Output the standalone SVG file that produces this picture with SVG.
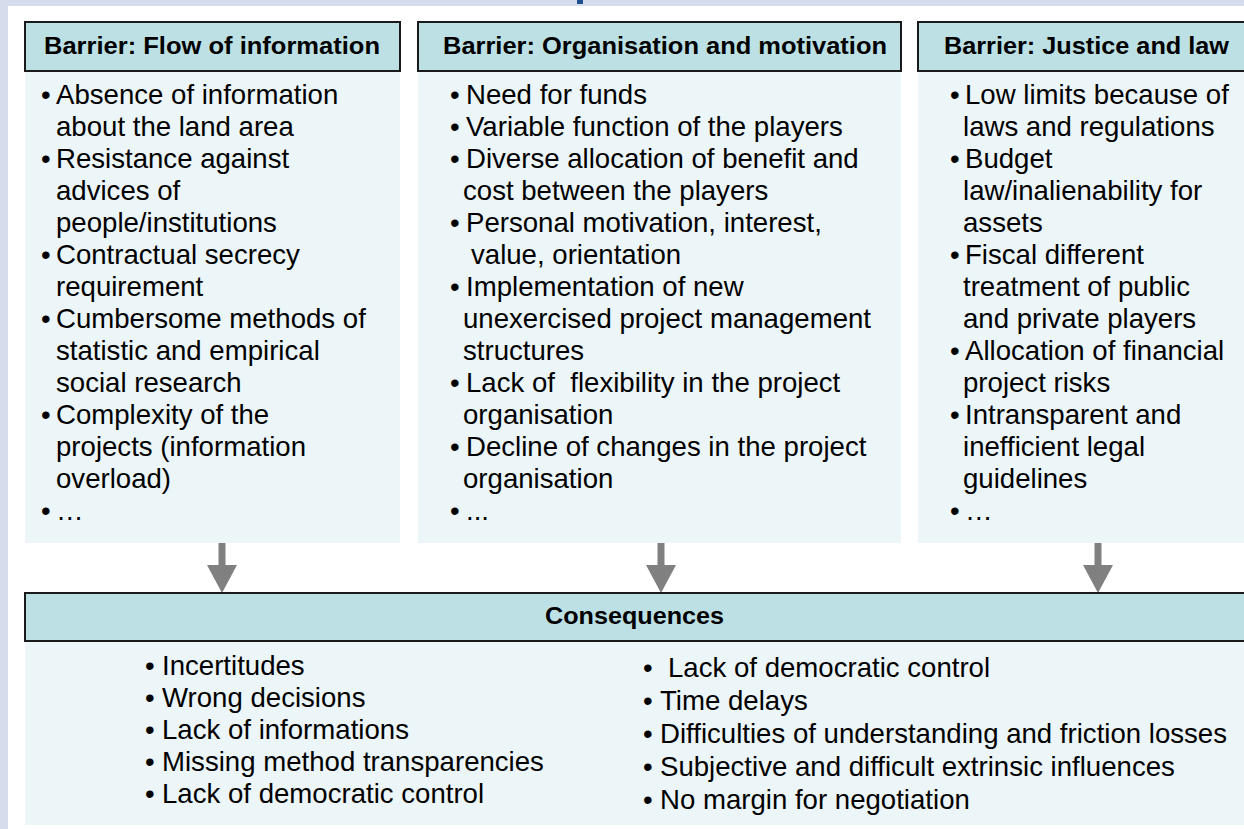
<svg xmlns="http://www.w3.org/2000/svg" width="1244" height="829" viewBox="0 0 1244 829">
<defs>
<style>
.hdr{fill:#bce0e4;stroke:#1a1a1a;stroke-width:2}
.body{fill:#ecf5f7}
.ht{font-family:"Liberation Sans",Arial,sans-serif;font-weight:bold;font-size:23px;fill:#000}
.bt{font-family:"Liberation Sans",Arial,sans-serif;font-size:27.6px;fill:#000}
.arr{fill:#808080}
</style>
</defs>
<rect x="0" y="0" width="1244" height="829" fill="#d7dcec"/>
<rect x="8" y="6" width="1236" height="823" fill="#ffffff"/>
<rect x="577" y="0" width="6" height="4" fill="#1f4e8c"/>

<g id="barrier-flow">
<rect class="body" x="25" y="71" width="375" height="472"/>
<rect class="hdr" x="25" y="22" width="375" height="49"/>
<text class="ht" x="44" y="54" textLength="336" lengthAdjust="spacingAndGlyphs">Barrier: Flow of information</text>
<text class="bt">
<tspan x="41" y="104">•</tspan><tspan x="56" y="104">Absence of information</tspan>
<tspan x="56" y="136">about the land area</tspan>
<tspan x="41" y="168">•</tspan><tspan x="56" y="168">Resistance against</tspan>
<tspan x="56" y="200">advices of</tspan>
<tspan x="56" y="232">people/institutions</tspan>
<tspan x="41" y="264">•</tspan><tspan x="56" y="264">Contractual secrecy</tspan>
<tspan x="56" y="296">requirement</tspan>
<tspan x="41" y="328">•</tspan><tspan x="56" y="328">Cumbersome methods of</tspan>
<tspan x="56" y="360">statistic and empirical</tspan>
<tspan x="56" y="392">social research</tspan>
<tspan x="41" y="424">•</tspan><tspan x="56" y="424">Complexity of the</tspan>
<tspan x="56" y="456">projects (information</tspan>
<tspan x="56" y="488">overload)</tspan>
<tspan x="41" y="520">•</tspan><tspan x="56" y="520">…</tspan>
</text>
</g>

<g id="barrier-organisation">
<rect class="body" x="418" y="71" width="483" height="472"/>
<rect class="hdr" x="418" y="22" width="483" height="49"/>
<text class="ht" x="443" y="54" textLength="444" lengthAdjust="spacingAndGlyphs">Barrier: Organisation and motivation</text>
<text class="bt">
<tspan x="450" y="104">•</tspan><tspan x="466" y="104">Need for funds</tspan>
<tspan x="450" y="136">•</tspan><tspan x="466" y="136">Variable function of the players</tspan>
<tspan x="450" y="168">•</tspan><tspan x="466" y="168">Diverse allocation of benefit and</tspan>
<tspan x="463" y="200">cost between the players</tspan>
<tspan x="450" y="232">•</tspan><tspan x="466" y="232">Personal motivation, interest,</tspan>
<tspan x="471" y="264">value, orientation</tspan>
<tspan x="450" y="296">•</tspan><tspan x="466" y="296">Implementation of new</tspan>
<tspan x="463" y="328">unexercised project management</tspan>
<tspan x="463" y="360">structures</tspan>
<tspan x="450" y="392">•</tspan><tspan x="466" y="392" xml:space="preserve">Lack of  flexibility in the project</tspan>
<tspan x="463" y="424">organisation</tspan>
<tspan x="450" y="456">•</tspan><tspan x="466" y="456">Decline of changes in the project</tspan>
<tspan x="463" y="488">organisation</tspan>
<tspan x="450" y="520">•</tspan><tspan x="466" y="520">...</tspan>
</text>
</g>

<g id="barrier-justice">
<rect class="body" x="918" y="71" width="330" height="472"/>
<rect class="hdr" x="918" y="22" width="330" height="49"/>
<text class="ht" x="944" y="54" textLength="285" lengthAdjust="spacingAndGlyphs">Barrier: Justice and law</text>
<text class="bt">
<tspan x="950" y="104">•</tspan><tspan x="965" y="104">Low limits because of</tspan>
<tspan x="963" y="136">laws and regulations</tspan>
<tspan x="950" y="168">•</tspan><tspan x="965" y="168">Budget</tspan>
<tspan x="963" y="200">law/inalienability for</tspan>
<tspan x="963" y="232">assets</tspan>
<tspan x="950" y="264">•</tspan><tspan x="965" y="264">Fiscal different</tspan>
<tspan x="963" y="296">treatment of public</tspan>
<tspan x="963" y="328">and private players</tspan>
<tspan x="950" y="360">•</tspan><tspan x="965" y="360">Allocation of financial</tspan>
<tspan x="963" y="392">project risks</tspan>
<tspan x="950" y="424">•</tspan><tspan x="965" y="424">Intransparent and</tspan>
<tspan x="963" y="456">inefficient legal</tspan>
<tspan x="963" y="488">guidelines</tspan>
<tspan x="950" y="520">•</tspan><tspan x="965" y="520">…</tspan>
</text>
</g>

<g id="connectors">
<path class="arr" d="M218.5 543 H225.5 V565 H237 L222 593 L207 565 H218.5 Z"/>
<path class="arr" d="M657.5 543 H664.5 V565 H676 L661 593 L646 565 H657.5 Z"/>
<path class="arr" d="M1094.5 543 H1101.5 V565 H1113 L1098 593 L1083 565 H1094.5 Z"/>
</g>

<g id="consequences">
<rect class="body" x="25" y="641" width="1223" height="184"/>
<rect class="hdr" x="25" y="593" width="1223" height="48"/>
<text class="ht" x="545" y="624" textLength="179" lengthAdjust="spacingAndGlyphs">Consequences</text>
<text class="bt">
<tspan x="145" y="675">•</tspan><tspan x="162" y="675">Incertitudes</tspan>
<tspan x="145" y="707">•</tspan><tspan x="162" y="707">Wrong decisions</tspan>
<tspan x="145" y="739">•</tspan><tspan x="162" y="739">Lack of informations</tspan>
<tspan x="145" y="771">•</tspan><tspan x="162" y="771">Missing method transparencies</tspan>
<tspan x="145" y="803">•</tspan><tspan x="162" y="803">Lack of democratic control</tspan>
<tspan x="643" y="677">•</tspan><tspan x="668" y="677">Lack of democratic control</tspan>
<tspan x="643" y="710">•</tspan><tspan x="660" y="710">Time delays</tspan>
<tspan x="643" y="743">•</tspan><tspan x="660" y="743">Difficulties of understanding and friction losses</tspan>
<tspan x="643" y="776">•</tspan><tspan x="660" y="776">Subjective and difficult extrinsic influences</tspan>
<tspan x="643" y="809">•</tspan><tspan x="660" y="809">No margin for negotiation</tspan>
</text>
</g>
</svg>
